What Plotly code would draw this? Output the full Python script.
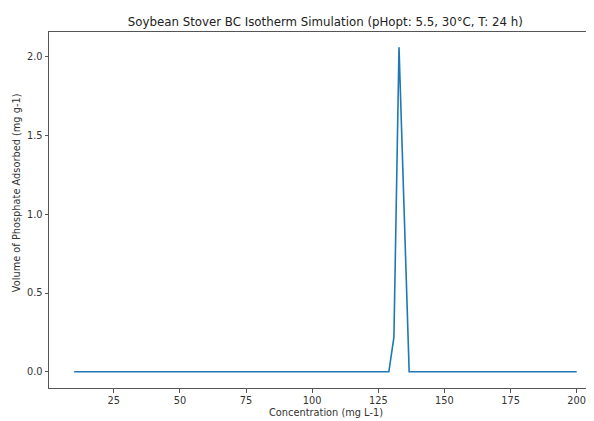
import plotly.graph_objects as go

# Key points of the simulated isotherm (concentration in mg L-1, adsorbed in mg g-1)
concentration = [10.0, 128.99, 130.91, 132.83, 134.75, 136.67, 200.0]
adsorbed = [0.0, 0.0, 0.22, 2.06, 1.03, 0.0, 0.0]

x_ticks = [25, 50, 75, 100, 125, 150, 175, 200]
y_ticks = [0.0, 0.5, 1.0, 1.5, 2.0]
y_tick_labels = ["0.0", "0.5", "1.0", "1.5", "2.0"]

title = "Soybean Stover BC Isotherm Simulation (pHopt: 5.5, 30°C, T: 24 h)"
x_title = "Concentration (mg L-1)"
y_title = "Volume of Phosphate Adsorbed (mg g-1)"

font_family = "DejaVu Sans"
# page body has an 8px default margin, so the figure is 8px smaller each way
W, H = 586, 413

fig = go.Figure()
fig.add_trace(go.Scatter(
    x=concentration, y=adsorbed, mode="lines",
    line=dict(color="#1f77b4", width=1.6),
    showlegend=False, hoverinfo="skip",
))

fig.update_layout(
    width=W, height=H,
    margin=dict(l=41, r=0, t=24, b=33, autoexpand=False),
    paper_bgcolor="white", plot_bgcolor="white",
    font=dict(family=font_family, size=9.8, color="#333333"),
    title=dict(text=title, x=317.3 / W, xanchor="center", y=1 - 13.7 / H,
               yanchor="middle", font=dict(family=font_family, size=11.8, color="#222222")),
    xaxis=dict(
        range=[0.5, 206.55], tickmode="array", tickvals=x_ticks,
        showgrid=False, zeroline=False,
        showline=True, linecolor="#555555", linewidth=1, mirror=True,
        ticks="outside", ticklen=3.5, tickcolor="#555555",
        tickfont=dict(size=9.8, color="#333333"),
    ),
    yaxis=dict(
        range=[-0.103, 2.157], tickmode="array", tickvals=y_ticks, ticktext=y_tick_labels,
        showgrid=False, zeroline=False,
        showline=True, linecolor="#555555", linewidth=1, mirror=False,
        ticks="outside", ticklen=3.5, tickcolor="#555555",
        tickfont=dict(size=9.8, color="#333333"),
    ),
    annotations=[
        dict(text=x_title, xref="paper", yref="paper",
             x=(317.8 - 41) / (W - 41), y=-(404.5 - (H - 33)) / (H - 24 - 33),
             xanchor="center", yanchor="middle", showarrow=False,
             font=dict(size=9.8, color="#333333")),
        dict(text=y_title, xref="paper", yref="paper",
             x=-(41 - 8.7) / (W - 41), y=1 - (184.5 - 24) / (H - 24 - 33),
             xanchor="center", yanchor="middle", textangle=-90, showarrow=False,
             font=dict(size=9.8, color="#333333")),
    ],
)

fig.write_html("out.html")
